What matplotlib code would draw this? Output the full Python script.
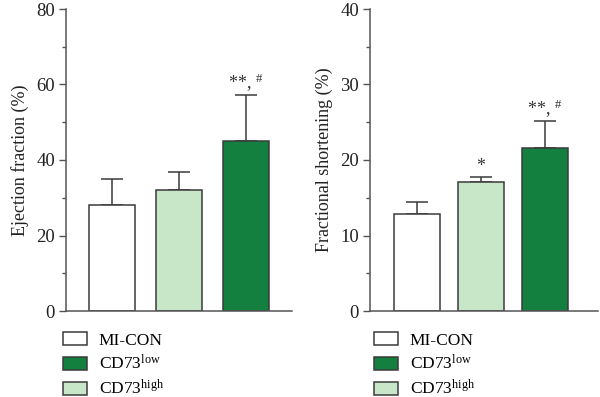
import matplotlib
matplotlib.use("Agg")
import matplotlib.pyplot as plt
import numpy as np
from matplotlib.patches import Patch
from matplotlib.ticker import MultipleLocator

plt.rcParams['font.family'] = ['Liberation Serif', 'DejaVu Serif']
plt.rcParams['mathtext.fontset'] = 'custom'
plt.rcParams['mathtext.rm'] = 'Liberation Serif'
plt.rcParams['mathtext.it'] = 'Liberation Serif:italic'
plt.rcParams['mathtext.bf'] = 'Liberation Serif:bold'

groups = ["MI-CON", "CD73high", "CD73low"]
ef_mean = [28.0, 32.0, 45.0]
ef_err = [7.0, 4.9, 12.2]
fs_mean = [12.9, 17.05, 21.6]
fs_err = [1.5, 0.75, 3.5]
ef_annot = ["", "", "**, $^{\\#}$"]
fs_annot = ["", "*", "**, $^{\\#}$"]
legend_labels = ["MI-CON", "CD73$^{\\mathrm{low}}$", "CD73$^{\\mathrm{high}}$"]

colors = {"MI-CON": "#ffffff", "CD73high": "#c8e6c8", "CD73low": "#138040"}
edge = "#3a3a3a"

fig = plt.figure(figsize=(6.0, 3.97), dpi=100)
ax1 = fig.add_axes([66/600, 1-311/397, 226/600, 302/397])
ax2 = fig.add_axes([370/600, 1-311/397, 228/600, 302/397])

def panel(ax, means, errs, annots, ymax, major, ylabel, xlim, width, off):
    x = np.arange(len(means))
    bar_colors = [colors[g] for g in groups]
    ax.errorbar(x, means, yerr=[np.zeros(len(errs)), errs], fmt='none',
                ecolor=edge, elinewidth=1.1, capsize=8.0, capthick=1.1, zorder=1)
    ax.bar(x, means, width=width, color=bar_colors, edgecolor=edge, linewidth=1.1, zorder=2)
    for xi, m, e, a in zip(x, means, errs, annots):
        if a:
            ax.text(xi, m + e + off, a, ha='center', va='bottom', fontsize=13, color='#333333')
    ax.set_ylim(0, ymax)
    ax.set_xlim(*xlim)
    ax.yaxis.set_major_locator(MultipleLocator(major))
    ax.yaxis.set_minor_locator(MultipleLocator(major/2))
    ax.set_xticks([])
    for s in ['top', 'right']:
        ax.spines[s].set_visible(False)
    for s in ['left', 'bottom']:
        ax.spines[s].set_color('#555555')
        ax.spines[s].set_linewidth(1.1)
    ax.tick_params(axis='y', which='major', length=5, width=1.0, color='#555555',
                   labelsize=13.5, pad=3, labelcolor='#222222')
    ax.tick_params(axis='y', which='minor', length=3, width=1.0, color='#555555')
    ax.set_ylabel(ylabel, fontsize=13, color='#222222', labelpad=5)

panel(ax1, ef_mean, ef_err, ef_annot, 80, 20, "Ejection fraction (%)", (-0.687, 2.687), 0.69, 0.3)
panel(ax2, fs_mean, fs_err, fs_annot, 40, 10, "Fractional shortening (%)", (-0.73, 2.83), 0.72, 0.15)

handles = [Patch(facecolor=colors["MI-CON"], edgecolor=edge, linewidth=1.1),
           Patch(facecolor=colors["CD73low"], edgecolor=edge, linewidth=1.1),
           Patch(facecolor=colors["CD73high"], edgecolor=edge, linewidth=1.1)]
for xl in [51/600, 362/600]:
    fig.legend(handles, legend_labels, loc='upper left', bbox_to_anchor=(xl, 1-320/397),
               frameon=False, fontsize=12.5, handlelength=1.35, handleheight=0.8,
               handletextpad=0.7, labelspacing=0.32, borderpad=0.2)

fig.savefig("out.png", dpi=100, facecolor='white')
